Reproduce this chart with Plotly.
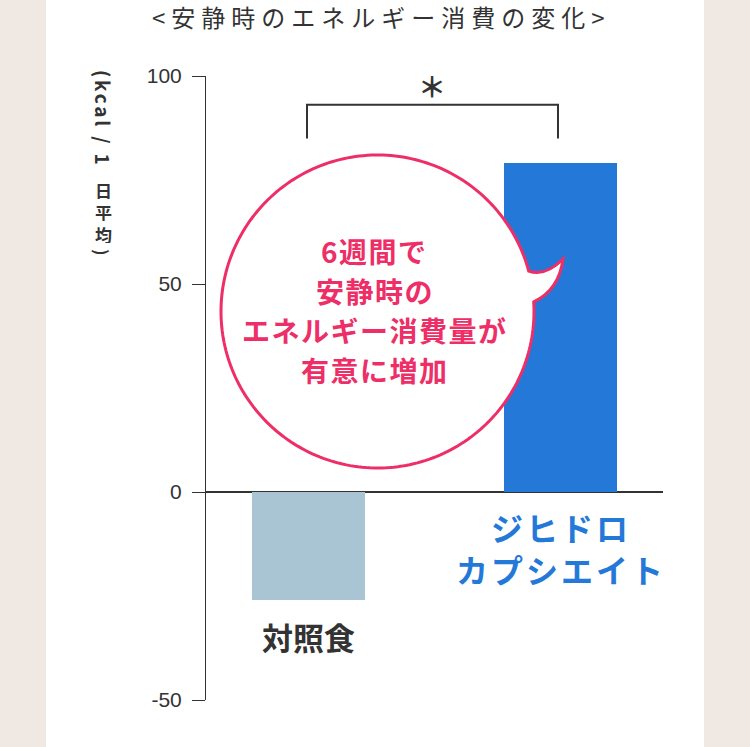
"""安静時のエネルギー消費の変化 - 棒グラフ."""

import numpy as np
import plotly.graph_objects as go

# データ
categories = ["対照食", "ジヒドロ<br>カプシエイト"]
values = [-26, 79]
bar_colors = ["#a9c4d3", "#2479d8"]
label_colors = ["#333333", "#2479d8"]
tick_vals = [-50, 0, 50, 100]
tick_text = ["-50", "0", "50", "100"]
bubble_lines = ["6週間で", "安静時の", "エネルギー消費量が", "有意に増加"]

PINK = "#ee2e66"
DARK = "#333333"
JP = "Noto Sans CJK JP"

# ピクセル -> paper 座標
L, R, T, B = 206, 663, 76, 700


def px(x):
    return (x - L) / (R - L)


def py(y):
    return (B - y) / (B - T)


def spaced(text, ls):
    """文字間隔つきのテキスト."""
    return "<br>".join(
        f'<span style="letter-spacing:{ls}px">{part}</span>' for part in text.split("<br>")
    )


fig = go.Figure()

fig.add_trace(go.Bar(
    x=categories,
    y=values,
    marker=dict(color=bar_colors, line=dict(width=0)),
    width=0.448,
    hoverinfo="skip",
))

# 吹き出し (円 + しっぽ)
cx, cy, r = 377.5, 311.5, 156.5
ang = np.linspace(np.radians(15), np.radians(363.5), 240)
pts = [(cx + r * np.cos(a), cy - r * np.sin(a)) for a in ang]
path = "M " + " L ".join(f"{px(x):.5f},{py(y):.5f}" for x, y in pts)
path += f" Q {px(559):.5f},{py(290):.5f} {px(563):.5f},{py(259):.5f}"
path += f" Q {px(545):.5f},{py(277):.5f} {px(pts[0][0]):.5f},{py(pts[0][1]):.5f} Z"

shapes = [
    # 白いパネル
    dict(type="rect", xref="paper", yref="paper", layer="below",
         x0=px(46), x1=px(704), y0=py(760), y1=py(-5),
         fillcolor="white", line=dict(width=0)),
    # 有意差ブラケット
    dict(type="path", xref="x", yref="y",
         path="M -0.006,85 L -0.006,93.1 L 0.99,93.1 L 0.99,85",
         line=dict(color=DARK, width=2)),
    dict(type="path", xref="paper", yref="paper", layer="above", path=path,
         fillcolor="white", line=dict(color=PINK, width=3)),
]

C = dict(showarrow=False, xanchor="center", yanchor="middle")
YT = dict(family=JP, size=17, color=DARK, weight="bold")
annotations = [
    dict(text=spaced("&lt;安静時のエネルギー消費の変化&gt;", 6), xref="paper", yref="paper",
         x=px(381), y=py(17), font=dict(family=JP, size=24, color=DARK), **C),
    dict(text="＊", xref="x", yref="y", x=0.49, y=97.5,
         font=dict(family=JP, size=28, color=DARK, weight="bold"), **C),
    # 縦軸タイトル
    dict(text=spaced("(kcal / 1", 2.8), xref="paper", yref="paper", x=px(103), y=py(119),
         textangle=90, font=dict(YT, size=19), **C),
    dict(text=")", xref="paper", yref="paper", x=px(103), y=py(252),
         textangle=90, font=YT, **C),
]
for ch, ly in zip("日平均", [189.5, 211.5, 234]):
    annotations.append(dict(text=ch, xref="paper", yref="paper", x=px(103), y=py(ly),
                            font=YT, height=18, **C))

# カテゴリラベル
label_y = [py(636), py(548)]
label_size = [31, 32]
label_ls = [0, 3]
for cat, col, ly, sz, ls in zip(categories, label_colors, label_y, label_size, label_ls):
    annotations.append(dict(
        text=spaced(cat, ls), xref="x", yref="paper", x=cat, y=ly,
        font=dict(family=JP, size=sz, color=col, weight="bold"), **C,
    ))

# 吹き出しの文字
for line, ly in zip(bubble_lines, [251, 291, 330, 370]):
    annotations.append(dict(
        text=spaced(line, 1.5), xref="paper", yref="paper", x=px(374.5), y=py(ly),
        font=dict(family=JP, size=28, color=PINK, weight="bold"), **C,
    ))

fig.update_layout(
    width=750,
    height=747,
    margin=dict(l=L, r=750 - R, t=T, b=747 - B, pad=0),
    paper_bgcolor="#f0e9e3",
    plot_bgcolor="white",
    showlegend=False,
    bargap=0,
    shapes=shapes,
    annotations=annotations,
    xaxis=dict(
        range=[-0.4068, 1.4067],
        showticklabels=False,
        showgrid=False,
        showline=False,
        ticks="",
        fixedrange=True,
    ),
    yaxis=dict(
        range=[-50, 100],
        tickvals=tick_vals,
        ticktext=tick_text,
        ticks="outside",
        ticklen=13,
        tickwidth=1,
        tickcolor=DARK,
        ticklabelstandoff=6,
        showline=True,
        linecolor=DARK,
        linewidth=1,
        showgrid=False,
        zeroline=True,
        zerolinecolor=DARK,
        zerolinewidth=1.5,
        tickfont=dict(family="Liberation Sans", size=21, color=DARK),
        fixedrange=True,
    ),
)

# ページの余白をなくす
fig.write_html(
    "out.html",
    config={"displayModeBar": False},
    post_script="document.body.style.margin='0';",
)
